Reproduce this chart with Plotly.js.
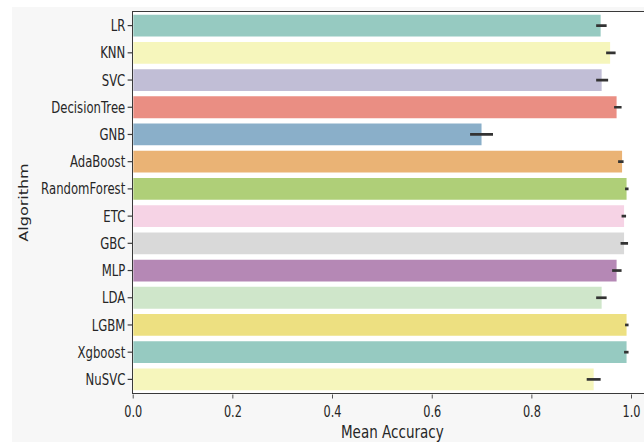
<!DOCTYPE html>
<html>
<head>
<meta charset="utf-8">
<script src="https://cdn.plot.ly/plotly-3.0.1.min.js"></script>
<style>
  html, body { margin: 0; padding: 0; background: #ffffff; overflow: hidden; width: 644px; height: 442px; }
  #frame { position: relative; width: 644px; height: 442px; overflow: hidden; background: #ffffff; }
  /* chart is laid out wide, then narrowed horizontally */
  #chart { position: absolute; left: 12px; top: 7px; width: 876px; height: 435px;
           transform: scaleX(0.73); transform-origin: 0 0; }
</style>
</head>
<body>
<div id="frame"><div id="chart"></div></div>
<script>
// Cross-validated accuracy per algorithm (mean and bootstrap CI bounds)
const algorithms = ["LR", "KNN", "SVC", "DecisionTree", "GNB", "AdaBoost", "RandomForest",
                    "ETC", "GBC", "MLP", "LDA", "LGBM", "Xgboost", "NuSVC"];
const meanAccuracy = [0.938, 0.957, 0.940, 0.970, 0.699, 0.981, 0.990,
                      0.985, 0.985, 0.970, 0.940, 0.990, 0.990, 0.924];
const ciLow  = [0.929, 0.949, 0.929, 0.965, 0.676, 0.973, 0.987,
                0.980, 0.978, 0.961, 0.929, 0.987, 0.985, 0.910];
const ciHigh = [0.950, 0.968, 0.953, 0.980, 0.722, 0.984, 0.994,
                0.989, 0.993, 0.980, 0.950, 0.994, 0.994, 0.938];
const xTicks = [0, 0.2, 0.4, 0.6, 0.8, 1.0];
const xTickLabels = ["0.0", "0.2", "0.4", "0.6", "0.8", "1.0"];

// Set3 qualitative palette, desaturated like seaborn bars
const set3 = ["#8dd3c7", "#ffffb3", "#bebada", "#fb8072", "#80b1d3", "#fdb462",
              "#b3de69", "#fccde5", "#d9d9d9", "#bc80bd", "#ccebc5", "#ffed6f"];

function desaturate(hex, prop) {
  const r = parseInt(hex.slice(1, 3), 16) / 255;
  const g = parseInt(hex.slice(3, 5), 16) / 255;
  const b = parseInt(hex.slice(5, 7), 16) / 255;
  const mx = Math.max(r, g, b), mn = Math.min(r, g, b);
  const l = (mx + mn) / 2;
  if (mx === mn) return hex;
  const d = mx - mn;
  let s = l > 0.5 ? d / (2 - mx - mn) : d / (mx + mn);
  let h;
  if (mx === r) h = ((g - b) / d) % 6;
  else if (mx === g) h = (b - r) / d + 2;
  else h = (r - g) / d + 4;
  h = h / 6; if (h < 0) h += 1;
  s *= prop;
  const q = l < 0.5 ? l * (1 + s) : l + s - l * s;
  const p = 2 * l - q;
  const hue = t => {
    if (t < 0) t += 1; if (t > 1) t -= 1;
    if (t < 1 / 6) return p + (q - p) * 6 * t;
    if (t < 1 / 2) return q;
    if (t < 2 / 3) return p + (q - p) * (2 / 3 - t) * 6;
    return p;
  };
  const toHex = v => Math.round(v * 255).toString(16).padStart(2, "0");
  return "#" + toHex(hue(h + 1 / 3)) + toHex(hue(h)) + toHex(hue(h - 1 / 3));
}

const barColors = algorithms.map((_, i) => desaturate(set3[i % set3.length], 0.75));
const errPlus = meanAccuracy.map((m, i) => ciHigh[i] - m);
const errMinus = meanAccuracy.map((m, i) => m - ciLow[i]);

const textColor = "#262626";
const spineColor = "#3a3a3a";
const fontFamily = "DejaVu Sans, Verdana, sans-serif";

const trace = {
  type: "bar",
  orientation: "h",
  x: meanAccuracy,
  y: algorithms,
  marker: { color: barColors, line: { width: 0 } },
  error_x: {
    type: "data", symmetric: false, array: errPlus, arrayminus: errMinus,
    width: 0, thickness: 2.7, color: "#333333"
  },
  hoverinfo: "skip"
};

const layout = {
  width: 876,
  height: 435,
  margin: { l: 166, r: 0, t: 5, b: 49 },
  paper_bgcolor: "#f7f7f7",
  plot_bgcolor: "#ffffff",
  bargap: 0.2,
  showlegend: false,
  font: { family: fontFamily, color: textColor },
  xaxis: {
    range: [0, 1.04],
    tickmode: "array", tickvals: xTicks, ticktext: xTickLabels,
    ticks: "outside", ticklen: 4, tickwidth: 1.2, tickcolor: spineColor,
    tickfont: { size: 15.5, color: textColor },
    showgrid: false, zeroline: false,
    showline: true, linecolor: spineColor, linewidth: 1.4, mirror: true,
    title: { text: "Mean Accuracy", font: { size: 18.5, color: textColor }, standoff: 2 }
  },
  yaxis: {
    type: "category",
    categoryorder: "array", categoryarray: algorithms,
    range: [13.5, -0.5],
    ticks: "outside", ticklen: 6, tickwidth: 1.2, tickcolor: spineColor,
    tickfont: { size: 16, color: textColor },
    showgrid: false, zeroline: false,
    showline: true, linecolor: spineColor, linewidth: 1.6, mirror: true,
    title: { text: "Algorithm", font: { size: 16, color: textColor }, standoff: 13 }
  }
};

Plotly.newPlot("chart", [trace], layout, { staticPlot: true, displayModeBar: false });
</script>
</body>
</html>
